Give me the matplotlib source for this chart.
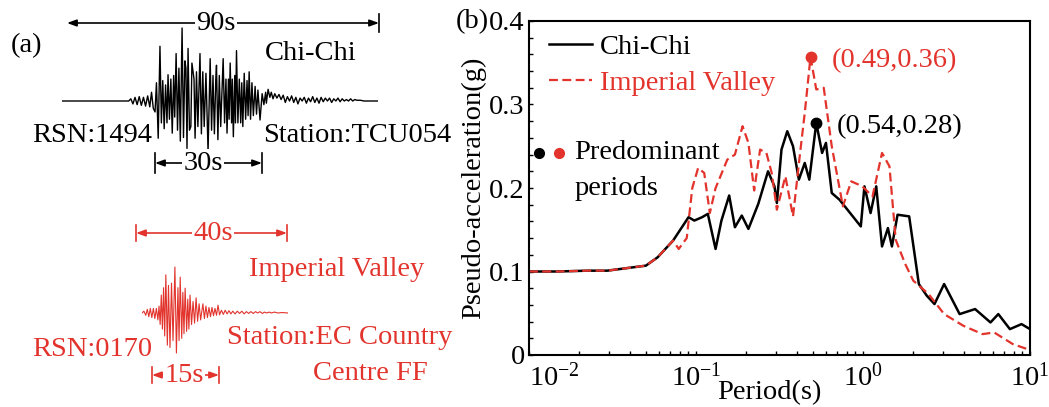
import numpy as np
import matplotlib
matplotlib.use("Agg")
import matplotlib.pyplot as plt
from matplotlib.ticker import MultipleLocator, FuncFormatter, NullFormatter, LogLocator

plt.rcParams['font.family'] = ['Liberation Serif', 'DejaVu Serif']
plt.rcParams['mathtext.fontset'] = 'custom'
plt.rcParams['mathtext.rm'] = 'Liberation Serif'
plt.rcParams['mathtext.it'] = 'Liberation Serif:italic'

RED = '#e2332c'
FS = 20.5

# ---- (a) ground motion records, time (s) and normalised acceleration ----
cc_t = [0, 19, 19.6, 20.2, 20.8, 21.4, 22.0, 22.6, 23.2, 23.8, 24.4, 25.0, 25.5, 26.0,
        26.5, 26.9, 27.4, 27.9, 28.3, 28.7, 29.1, 29.5, 29.9, 30.2, 30.6, 31.0, 31.4, 31.8,
        32.1, 32.5, 32.9, 33.3, 33.7, 34.2, 34.6, 35.0, 35.3, 35.6, 35.9, 36.3, 36.7, 37.0,
        37.6, 37.9, 38.3, 38.7, 39.3, 39.7, 40.1, 40.5, 41.0, 41.6, 42.2, 42.6, 43.0, 43.4,
        43.8, 44.0, 44.4, 44.8, 45.2, 45.9, 46.3, 46.7, 47.0, 47.4, 47.6, 47.9, 48.3, 48.5,
        48.8, 49.2, 49.4, 49.7, 50.1, 50.5, 50.9, 51.2, 51.5, 51.9, 52.3, 52.7, 53.0, 53.3,
        53.7, 54.1, 54.5, 55.0, 55.4, 55.8, 56.4,
        57.0, 57.5, 58.0, 58.2, 58.7, 59.2, 59.6, 60.1, 60.6, 61.2, 61.8, 62.4, 63.0, 63.6,
        64.2, 64.8, 65.4, 66.0, 66.6, 67.2, 67.8, 68.4, 69.0, 69.6, 70.2, 70.8, 71.4, 72.0,
        72.6, 73.2, 73.8, 74.4, 75.0, 75.6, 76.2, 76.8, 77.4, 78.0, 78.6, 79.2, 79.8, 80.4,
        81.0, 81.6, 82.2, 82.8, 83.4, 84.0, 85.0, 86.0, 90.0]
cc_a = [0, 0, 0.03, -0.04, 0.05, -0.05, 0.06, -0.06, 0.05, -0.07, 0.07, -0.08, 0.12, -0.10,
        -0.15, 0.25, -0.51, 0.75, -0.30, 0.28, -0.38, 0.22, -0.30, 0.36, -0.25, 0.30, -0.44, 0.35,
        -0.22, 0.65, -0.40, 0.45, -0.55, 1.00, -0.50, 0.55, 0.45, -0.65, 0.72, -0.40, -0.35, 0.52,
        0.30, -0.51, 0.40, -0.35, 0.65, -0.45, 0.40, -0.35, 0.38, -0.69, 0.58, -0.40, 0.35, -0.45,
        0.30, 0.49, -0.53, 0.35, -0.35, 0.58, -0.30, 0.30, -0.44, 0.30, -0.25, 0.52, -0.30, 0.30,
        -0.49, 0.35, -0.30, 0.69, -0.30, 0.30, -0.30, 0.25, -0.35, 0.38, -0.25, 0.28, -0.20, 0.40,
        -0.25, 0.25, -0.20, 0.20, -0.18, 0.15, -0.26,
        0.10, -0.05, 0.12, -0.03, 0.16, 0.05, 0.12, 0.03, 0.10, 0.04, 0.09, 0.02, 0.08, -0.02,
        0.06, 0.0, 0.07, -0.02, 0.05, -0.04, 0.04, 0.0, 0.05, -0.03, 0.04, -0.01, 0.06, -0.02,
        0.04, -0.03, 0.05, -0.01, 0.04, 0.0, 0.04, -0.02, 0.03, 0.0, 0.04, -0.01, 0.03, 0.0,
        0.02, 0.0, 0.03, 0.0, 0.02, 0.01, 0.01, 0.0, 0.0]

iv_t = [0, 0.5, 1.0, 1.4, 1.8, 2.2, 2.6, 3.0, 3.4, 3.8, 4.2, 4.5, 4.8, 5.1, 5.4, 5.7, 6.0,
        6.3, 6.7, 7.0, 7.4, 7.8, 8.2, 8.7, 9.1, 9.5, 9.8, 10.1, 10.5, 10.8, 11.1, 11.4, 11.8,
        12.1, 12.4, 12.7, 13.1, 13.5, 13.9, 14.3, 14.7, 15.1, 15.5, 16.1, 16.5, 16.9, 17.3,
        17.7, 18.1, 18.5, 18.9, 19.3, 19.7, 20.1, 20.5, 21.0, 21.5, 22.0, 22.5, 23.0, 23.5,
        24.0, 24.6, 25.2, 25.8, 26.4, 27.0, 27.6, 28.2, 28.8, 29.4, 30.0, 30.6, 31.2, 31.8,
        32.4, 33.0, 33.6, 34.2, 35.0, 36.0, 37.0, 38.6]
iv_a = [0, 0.04, -0.05, 0.08, -0.08, 0.10, -0.10, 0.10, -0.12, 0.10, -0.15, 0.15, -0.25,
        0.39, -0.35, 0.55, -0.50, 0.83, -0.70, 0.60, -0.75, 0.65, -0.60, 1.00, -0.87, 0.55,
        -0.60, 0.78, -0.55, 0.45, -0.45, 0.54, -0.40, 0.30, -0.35, 0.39, -0.25, 0.25, -0.22,
        0.33, -0.18, 0.20, -0.15, 0.20, -0.12, 0.15, -0.10, 0.12, -0.08, 0.12, -0.06, 0.10,
        -0.05, 0.17, -0.04, 0.06, -0.03, 0.06, -0.02, 0.05, -0.02, 0.04, -0.02, 0.04, -0.01,
        0.04, -0.02, 0.03, -0.01, 0.03, -0.01, 0.03, 0.0, 0.03, -0.01, 0.02, 0.0, 0.02, 0.0,
        0.02, 0.0, 0.01, 0.0]

# ---- (b) response spectra ----
cc_T = [0.01, 0.0147, 0.0225, 0.0294, 0.0384, 0.0501, 0.0589, 0.0729, 0.0902, 0.0977,
        0.1087, 0.1177, 0.131, 0.142, 0.158, 0.171, 0.188, 0.206, 0.236, 0.270, 0.295,
        0.305, 0.325, 0.352, 0.381, 0.413, 0.448, 0.477, 0.525, 0.569, 0.600, 0.650,
        0.723, 0.970, 1.02, 1.11, 1.20, 1.30, 1.41, 1.49, 1.61, 1.89, 2.16, 2.41, 2.68,
        3.06, 3.79, 4.69, 5.80, 6.46, 7.58, 8.90, 10.0]
cc_Sa = [0.100, 0.100, 0.101, 0.101, 0.104, 0.107, 0.117, 0.137, 0.165, 0.161,
         0.165, 0.169, 0.127, 0.161, 0.191, 0.153, 0.167, 0.151, 0.181, 0.220, 0.202,
         0.182, 0.246, 0.268, 0.250, 0.210, 0.230, 0.210, 0.278, 0.242, 0.254, 0.194,
         0.186, 0.154, 0.202, 0.170, 0.202, 0.130, 0.152, 0.130, 0.168, 0.166, 0.085, 0.071, 0.061,
         0.085, 0.049, 0.055, 0.039, 0.049, 0.031, 0.037, 0.031]

iv_T = [0.01, 0.0147, 0.0225, 0.0294, 0.0384, 0.0501, 0.0589, 0.0729, 0.0788, 0.088,
        0.095, 0.103, 0.112, 0.121, 0.131, 0.154, 0.171, 0.190, 0.206, 0.223, 0.242,
        0.264, 0.284, 0.305, 0.343, 0.381, 0.420, 0.448, 0.485, 0.525, 0.582, 0.650,
        0.758, 0.850, 0.990, 1.14, 1.30, 1.44, 1.57, 1.79, 2.00, 2.47, 3.06, 3.99,
        5.20, 6.10, 7.90, 10.0]
iv_Sa = [0.100, 0.100, 0.101, 0.101, 0.104, 0.107, 0.117, 0.137, 0.127, 0.140,
         0.200, 0.224, 0.218, 0.170, 0.200, 0.234, 0.240, 0.274, 0.254, 0.197, 0.246,
         0.242, 0.218, 0.174, 0.214, 0.166, 0.242, 0.290, 0.357, 0.318, 0.320, 0.250,
         0.178, 0.208, 0.202, 0.190, 0.242, 0.226, 0.138, 0.109, 0.089, 0.073, 0.049, 0.035,
         0.025, 0.027, 0.013, 0.006]

period_ticks = [0.01, 0.1, 1, 10]
period_tick_lbl = [r'$\mathdefault{10^{-2}}$', r'$\mathdefault{10^{-1}}$',
                   r'$\mathdefault{10^{0}}$', r'$\mathdefault{10^{1}}$']

peak_T = [0.525, 0.485]
peak_Sa = [0.278, 0.357]
peak_lbl = ['(0.54,0.28)', '(0.49,0.36)']
peak_col = ['black', RED]

W, H = 1049, 407
fig = plt.figure(figsize=(W / 100, H / 100), dpi=100)

# waveform insets (panel a)
cc_ax = fig.add_axes([62 / W, 1 - (101 + 73 * 1.05) / H, 316 / W, 2 * 73 * 1.05 / H])
cc_ax.plot(cc_t, cc_a, color='black', lw=1.0)
cc_ax.set_xlim(0, 90)
cc_ax.set_ylim(-1.05, 1.05)
cc_ax.axis('off')

iv_ax = fig.add_axes([142 / W, 1 - (313 + 46 * 1.05) / H, 146 / W, 2 * 46 * 1.05 / H])
iv_ax.plot(iv_t, iv_a, color=RED, lw=0.8)
iv_ax.set_xlim(0, 38.6)
iv_ax.set_ylim(-1.05, 1.05)
iv_ax.axis('off')

# overlay in pixel units for the text and duration arrows of panel (a)
ov = fig.add_axes([0, 0, 1, 1])
ov.set_xlim(0, W)
ov.set_ylim(H, 0)
ov.axis('off')


def span(x0, x1, y, label, color, left_bar=True, bar=9, xt=None):
    ov.annotate('', xy=(x0, y), xytext=(x1, y),
                arrowprops=dict(arrowstyle='<|-|>,head_length=0.55,head_width=0.2',
                                color=color, lw=1.2, shrinkA=0, shrinkB=0))
    if left_bar:
        ov.plot([x0, x0], [y - bar, y + bar], color=color, lw=1.2)
    ov.plot([x1, x1], [y - bar, y + bar], color=color, lw=1.2)
    if xt is None:
        xt = (x0 + x1) / 2
    ov.text(xt, y, label, color=color, fontsize=FS, ha='center', va='center',
            bbox=dict(facecolor='white', edgecolor='none', pad=1))


span(67, 379, 23, '90s', 'black', left_bar=False, xt=216)
span(155, 262, 163, '30s', 'black', bar=10, xt=203)
span(136, 287, 233, '40s', RED, bar=8, xt=213)
span(152, 219, 375, '15s', RED, bar=8, xt=184)

ov.text(26, 46, '(a)', fontsize=FS, ha='center', va='center')
ov.text(311, 53, 'Chi-Chi', fontsize=FS, ha='center', va='center')
ov.text(92, 135, 'RSN:1494', fontsize=FS, ha='center', va='center')
ov.text(357, 135, 'Station:TCU054', fontsize=FS, ha='center', va='center')
ov.text(337, 270, 'Imperial Valley', fontsize=FS, ha='center', va='center', color=RED)
ov.text(340, 338, 'Station:EC Country', fontsize=FS, ha='center', va='center', color=RED)
ov.text(370, 373, 'Centre FF', fontsize=FS, ha='center', va='center', color=RED)
ov.text(92, 350, 'RSN:0170', fontsize=FS, ha='center', va='center', color=RED)
ov.text(472, 22, '(b)', fontsize=FS, ha='center', va='center')

# ---- panel (b) ----
ax = fig.add_axes([529 / W, 1 - 355 / H, (1030 - 529) / W, (355 - 21) / H])
ax.plot(cc_T, cc_Sa, color='black', lw=1.8, label='Chi-Chi')
ax.plot(iv_T, iv_Sa, color=RED, lw=1.6, ls=(0, (4, 2)), label='Imperial Valley')
for T, Sa, lbl, c in zip(peak_T, peak_Sa, peak_lbl, peak_col):
    ax.plot(T, Sa, 'o', color=c, ms=7.5, zorder=5)
    ax.annotate(lbl, (T, Sa), xytext=(15, -3), textcoords='offset points',
                color=c, fontsize=FS, ha='left', va='center')

ax.set_xscale('log')
ax.set_xlim(0.01, 10)
ax.set_ylim(0, 0.4)
ax.set_xticks(period_ticks)
xlbls = ax.set_xticklabels(period_tick_lbl)
xlbls[0].set_horizontalalignment('left')   # keep 10^-2 clear of the "0"
ax.xaxis.set_minor_locator(LogLocator(base=10, subs=np.arange(2, 10)))
ax.xaxis.set_minor_formatter(NullFormatter())
ax.yaxis.set_major_locator(MultipleLocator(0.1))
ax.yaxis.set_minor_locator(MultipleLocator(0.02))
ax.yaxis.set_major_formatter(FuncFormatter(lambda v, p: '0' if abs(v) < 1e-9 else f'{v:.1f}'))
ax.tick_params(which='both', direction='in', length=3, width=1, labelsize=FS, pad=3)
ax.tick_params(axis='x', which='both', pad=6)
for s in ax.spines.values():
    s.set_linewidth(1.5)
ax.set_xlabel('Period(s)', fontsize=FS)
ax.xaxis.set_label_coords(0.48, -0.075)
ax.set_ylabel('Pseudo-acceleration(g)', fontsize=FS, labelpad=2)

leg = ax.legend(loc='upper left', bbox_to_anchor=(0.04, 0.96), frameon=False,
                fontsize=FS, borderaxespad=0, borderpad=0, handlelength=1.5,
                handletextpad=0.3, labelspacing=0.35, labelcolor='linecolor')

# predominant period key
ax.plot([0.02], [0.605], 'o', color='black', ms=7, transform=ax.transAxes, clip_on=False)
ax.plot([0.06], [0.605], 'o', color=RED, ms=7, transform=ax.transAxes, clip_on=False)
ax.text(0.09, 0.605, 'Predominant', transform=ax.transAxes, fontsize=FS,
        ha='left', va='center')
ax.text(0.09, 0.50, 'periods', transform=ax.transAxes, fontsize=FS,
        ha='left', va='center')

fig.savefig('out.png', dpi=100)
